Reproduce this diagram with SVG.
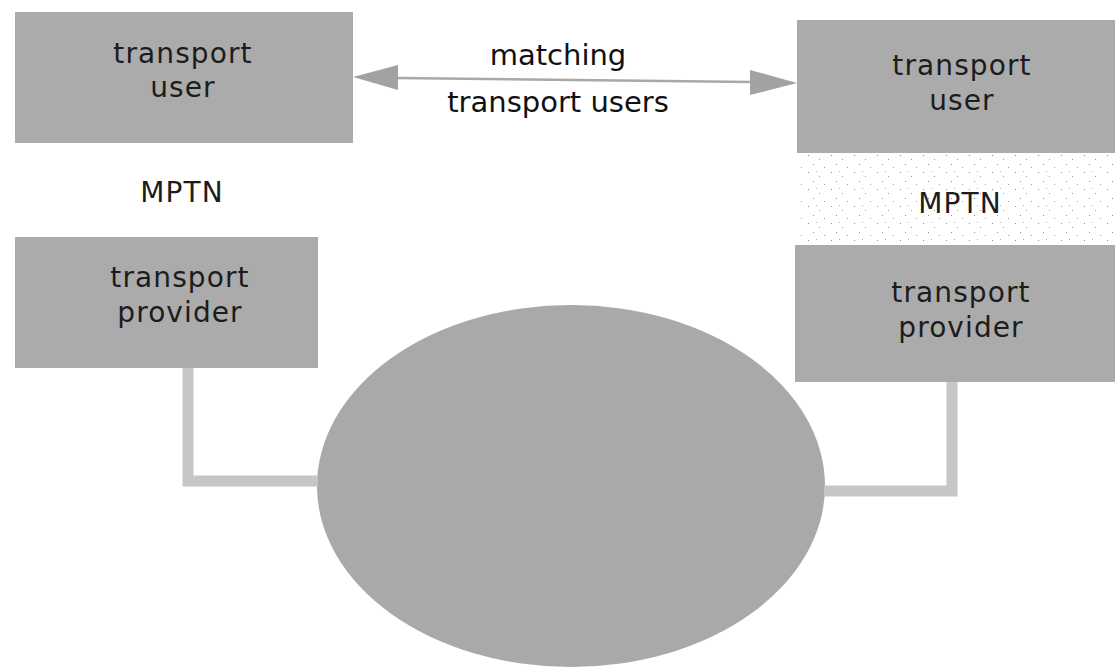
<svg xmlns="http://www.w3.org/2000/svg" width="1115" height="668" viewBox="0 0 1115 668">
  <style>
    .box { fill: #ababab; }
    .cloud { fill: #a9a9a9; }
    .lbl { font-family: "DejaVu Sans", Verdana, sans-serif; font-size: 28px; letter-spacing: 1.1px; fill: #1c1c1c; text-anchor: middle; }
    .cap { font-family: "DejaVu Sans", Verdana, sans-serif; font-size: 29px; fill: #111; text-anchor: middle; }
    .link { fill: none; stroke: #c6c6c6; stroke-width: 11; }
    .match { stroke: #a8a8a8; stroke-width: 2.5; }
    .head { fill: #a2a2a2; }
  </style>
  <defs>
    <!-- sparse stipple behind the right-hand MPTN layer -->
    <pattern id="stipple" width="23" height="17" patternUnits="userSpaceOnUse">
      <rect x="3" y="2" width="1" height="1" fill="#8a8a8a"/>
      <rect x="14" y="6" width="1" height="1" fill="#9a9a9a"/>
      <rect x="8" y="11" width="1" height="1" fill="#8a8a8a"/>
      <rect x="19" y="14" width="1" height="1" fill="#a0a0a0"/>
      <rect x="11" y="1" width="1" height="1" fill="#b0b0b0"/>
    </pattern>
  </defs>

  <rect width="1115" height="668" fill="#ffffff"/>

  <!-- network cloud -->
  <g id="network">
    <ellipse class="cloud" cx="571" cy="486" rx="254" ry="181"/>
  </g>

  <!-- connectors -->
  <g id="connectors">
    <polyline class="link" points="188,368 188,481 318,481"/>
    <polyline class="link" points="952,382 952,491 824,491"/>
    <g id="matching-arrow">
      <line class="match" x1="396" y1="78" x2="752" y2="82"/>
      <polygon class="head" points="353,77 398,65 398,90"/>
      <polygon class="head" points="797,83 750,70 750,95"/>
    </g>
  </g>

  <g id="matching-label">
    <text class="cap" x="558" y="65">matching</text>
    <text class="cap" x="558" y="112">transport users</text>
  </g>

  <!-- left stack -->
  <g id="user-left">
    <rect class="box" x="15" y="12" width="338" height="131"/>
    <text class="lbl" x="183" y="63">transport</text>
    <text class="lbl" x="183" y="97">user</text>
  </g>
  <g id="mptn-left">
    <text class="lbl" x="182" y="202">MPTN</text>
  </g>
  <g id="provider-left">
    <rect class="box" x="15" y="237" width="303" height="131"/>
    <text class="lbl" x="180" y="287">transport</text>
    <text class="lbl" x="180" y="322">provider</text>
  </g>

  <!-- right stack -->
  <g id="user-right">
    <rect class="box" x="797" y="20" width="318" height="133"/>
    <text class="lbl" x="962" y="75">transport</text>
    <text class="lbl" x="962" y="110">user</text>
  </g>
  <g id="mptn-right">
    <rect x="797" y="155" width="318" height="88" fill="url(#stipple)"/>
    <text class="lbl" x="960" y="213">MPTN</text>
  </g>
  <g id="provider-right">
    <rect class="box" x="795" y="245" width="320" height="137"/>
    <text class="lbl" x="961" y="302">transport</text>
    <text class="lbl" x="961" y="337">provider</text>
  </g>
</svg>
